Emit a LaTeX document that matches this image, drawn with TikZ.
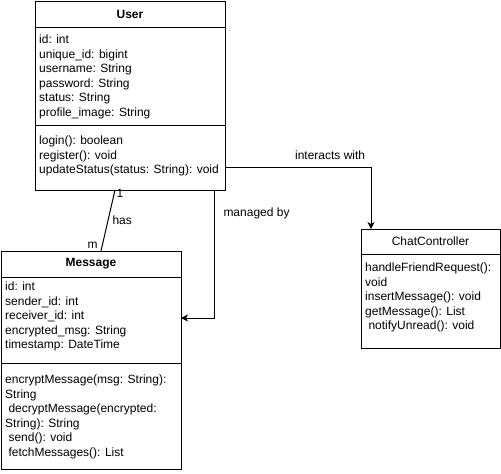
\documentclass[tikz,border=0pt]{standalone}
\usepackage{fontspec}
\setmainfont{Liberation Sans}
\usetikzlibrary{arrows.meta,calc,positioning}

\begin{document}
\begin{tikzpicture}[
  x=1pt, y=-1pt,
  every node/.style={font=\fontsize{12}{14.5}\selectfont},
  cls/.style={draw, line width=1pt, inner sep=0pt, outer sep=0pt, anchor=north west},
  title/.style={cls, minimum height=26pt},
  members/.style={anchor=north west, inner sep=0pt, align=left},
  arrow/.style={-{Stealth[length=7pt, width=7pt, inset=2pt]}, line width=1pt},
  label/.style={inner sep=1pt},
]
  \useasboundingbox (0,0) rectangle (501,474);
  % User
  \node[title, minimum width=190pt, font=\fontsize{12}{14.5}\selectfont\bfseries]
    (userT) at (35,1) {User};
  \node[cls, minimum width=190pt, minimum height=98pt] (userA) at (userT.south west) {};
  \node[cls, minimum width=190pt, minimum height=65pt] (userM) at (userA.south west) {};
  \node[members] (userAtxt) at ([xshift=4pt, yshift=-8pt]userA.north west)
    {id: int\\unique\_id: bigint\\username: String\\password: String\\
     status: String\\profile\_image: String};
  \node[members] (userMtxt) at ([xshift=4pt, yshift=-11pt]userM.north west)
    {login(): boolean\\register(): void\\updateStatus(status: String): void};
  % Message
  \node[title, minimum width=180pt, font=\fontsize{12}{14.5}\selectfont\bfseries]
    (msgT) at (1,251) {Message};
  \node[cls, minimum width=180pt, minimum height=86pt] (msgA) at (msgT.south west) {};
  \node[cls, minimum width=180pt, minimum height=106pt] (msgM) at (msgA.south west) {};
  \node[members] (msgAtxt) at ([xshift=4pt, yshift=-5pt]msgA.north west)
    {id: int\\sender\_id: int\\receiver\_id: int\\encrypted\_msg: String\\
     timestamp: DateTime};
  \node[members] (msgMtxt) at ([xshift=4pt, yshift=-12pt]msgM.north west)
    {encryptMessage(msg: String):\\String\\\ decryptMessage(encrypted:\\
     String): String\\\ send(): void\\\ fetchMessages(): List};
  % ChatController
  \node[cls, minimum width=139pt, minimum height=25pt] (ccT) at (361,229) {ChatController};
  \node[cls, minimum width=139pt, minimum height=94pt] (ccM) at (ccT.south west) {};
  \node[members] (ccMtxt) at ([xshift=4pt, yshift=-9pt]ccM.north west)
    {handleFriendRequest():\\void\\insertMessage(): void\\getMessage(): List\\
     \ notifyUnread(): void};
  % Associations
  \draw[line width=1pt] ([xshift=80pt]userM.south west) -- ([xshift=100pt]msgT.north west)
    node[label, pos=0, below right, yshift=2pt] (hasOne) {1}
    node[label, pos=0.5, right=3pt] (hasLbl) {has}
    node[label, pos=1, above left, xshift=-2pt, yshift=1pt] (hasMany) {m};
  \draw[arrow] ([xshift=-11pt]userM.south east) |- ([yshift=2pt]msgA.east)
    node[label, pos=0.09, right=8pt] (mgdLbl) {managed by};
  \draw[arrow] ([yshift=-9.5pt]userM.east) -| ([xshift=10pt]ccT.north west)
    node[label, pos=0.36, above=6pt] (intLbl) {interacts with};
\end{tikzpicture}
\end{document}
